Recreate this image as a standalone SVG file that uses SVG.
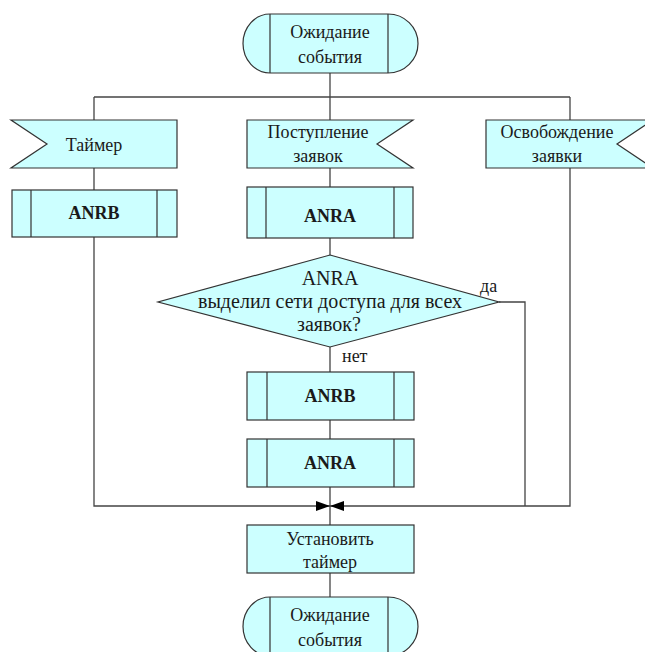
<svg xmlns="http://www.w3.org/2000/svg" width="645" height="652" viewBox="0 0 645 652" font-family="'Liberation Serif', 'Times New Roman', serif">
  <style>
    .shape { fill: #CCFFFF; stroke: #333333; stroke-width: 1.2; }
    .inner { fill: none; stroke: #333333; stroke-width: 1.2; }
    .conn { fill: none; stroke: #444444; stroke-width: 1.3; }
    .t { font-size: 18px; fill: #1a1a1a; text-anchor: middle; }
    .d { font-size: 20px; }
    .b { font-weight: bold; }
    .l { text-anchor: start; }
  </style>
  <defs>
    <marker id="arrow" markerUnits="userSpaceOnUse" markerWidth="15" markerHeight="10" refX="14" refY="5" orient="auto">
      <path d="M0,0 L14,5 L0,10 Z" fill="#000000"/>
    </marker>
  </defs>
  <rect width="645" height="652" fill="#ffffff"/>

  <!-- connectors -->
  <g id="connectors">
    <path class="conn" d="M330,73 V97"/>
    <path class="conn" d="M94,97 H570"/>
    <path class="conn" d="M94,97 V120 M94,168 V190"/>
    <path class="conn" d="M330,97 V120 M330,168 V187 M330,238 V255 M330,347 V372 M330,420 V439 M330,487 V525"/>
    <path class="conn" d="M570,97 V120"/>
    <path class="conn" d="M94,237 V506 H330" marker-end="url(#arrow)"/>
    <path class="conn" d="M570,168 V506 H330" marker-end="url(#arrow)"/>
    <path class="conn" d="M499,302 H525 V506"/>
    <path class="conn" d="M330,573 V597"/>
  </g>

  <!-- start terminator -->
  <g id="start">
    <path class="shape" d="M270,14 H388 A30,29.5 0 0 1 388,73 H270 A27,29.5 0 0 1 270,14 Z"/>
    <path class="inner" d="M270,14 V73 M388,14 V73"/>
    <text class="t" x="330" y="38">Ожидание</text>
    <text class="t" x="330" y="63">события</text>
  </g>

  <!-- incoming signals -->
  <g id="timer">
    <path class="shape" d="M11,120 H177 V168 H11 L47,144 Z"/>
    <text class="t" x="94" y="151">Таймер</text>
  </g>
  <g id="requests">
    <path class="shape" d="M247,120 H413 L377,144 L413,168 H247 Z"/>
    <text class="t" x="318" y="138">Поступление</text>
    <text class="t" x="318" y="162">заявок</text>
  </g>
  <g id="release">
    <path class="shape" d="M486,120 H653 L617,144 L653,168 H486 Z"/>
    <text class="t" x="557" y="138" font-size="19">Освобождение</text>
    <text class="t" x="557" y="162">заявки</text>
  </g>

  <!-- predefined processes -->
  <g id="anrb-left">
    <rect class="shape" x="12" y="190" width="165" height="47"/>
    <path class="inner" d="M31,190 V237 M157,190 V237"/>
    <text class="t b" x="94" y="219">ANRB</text>
  </g>
  <g id="anra-top">
    <rect class="shape" x="247" y="187" width="166" height="51"/>
    <path class="inner" d="M266,187 V238 M394,187 V238"/>
    <text class="t b" x="330" y="222">ANRA</text>
  </g>

  <!-- decision -->
  <g id="decision">
    <path class="shape" d="M330,255 L499,302 L330,347 L158,302 Z"/>
    <text class="t d" x="330" y="285">ANRA</text>
    <text class="t d" x="330" y="308">выделил сети доступа для всех</text>
    <text class="t d" x="329" y="331">заявок?</text>
    <text class="t l" x="480" y="292">да</text>
    <text class="t l" x="342" y="362">нет</text>
  </g>

  <g id="anrb-mid">
    <rect class="shape" x="247" y="372" width="167" height="48"/>
    <path class="inner" d="M267,372 V420 M394,372 V420"/>
    <text class="t b" x="330" y="402">ANRB</text>
  </g>
  <g id="anra-mid">
    <rect class="shape" x="247" y="439" width="167" height="48"/>
    <path class="inner" d="M267,439 V487 M394,439 V487"/>
    <text class="t b" x="330" y="469">ANRA</text>
  </g>

  <!-- process -->
  <g id="set-timer">
    <rect class="shape" x="247" y="525" width="167" height="48"/>
    <text class="t" x="330" y="545">Установить</text>
    <text class="t" x="330" y="568">таймер</text>
  </g>

  <!-- end terminator -->
  <g id="wait">
    <path class="shape" d="M270,597 H388 A30,29.5 0 0 1 388,656 H270 A27,29.5 0 0 1 270,597 Z"/>
    <path class="inner" d="M270,597 V656 M388,597 V656"/>
    <text class="t" x="330" y="621">Ожидание</text>
    <text class="t" x="330" y="646">события</text>
  </g>
</svg>
